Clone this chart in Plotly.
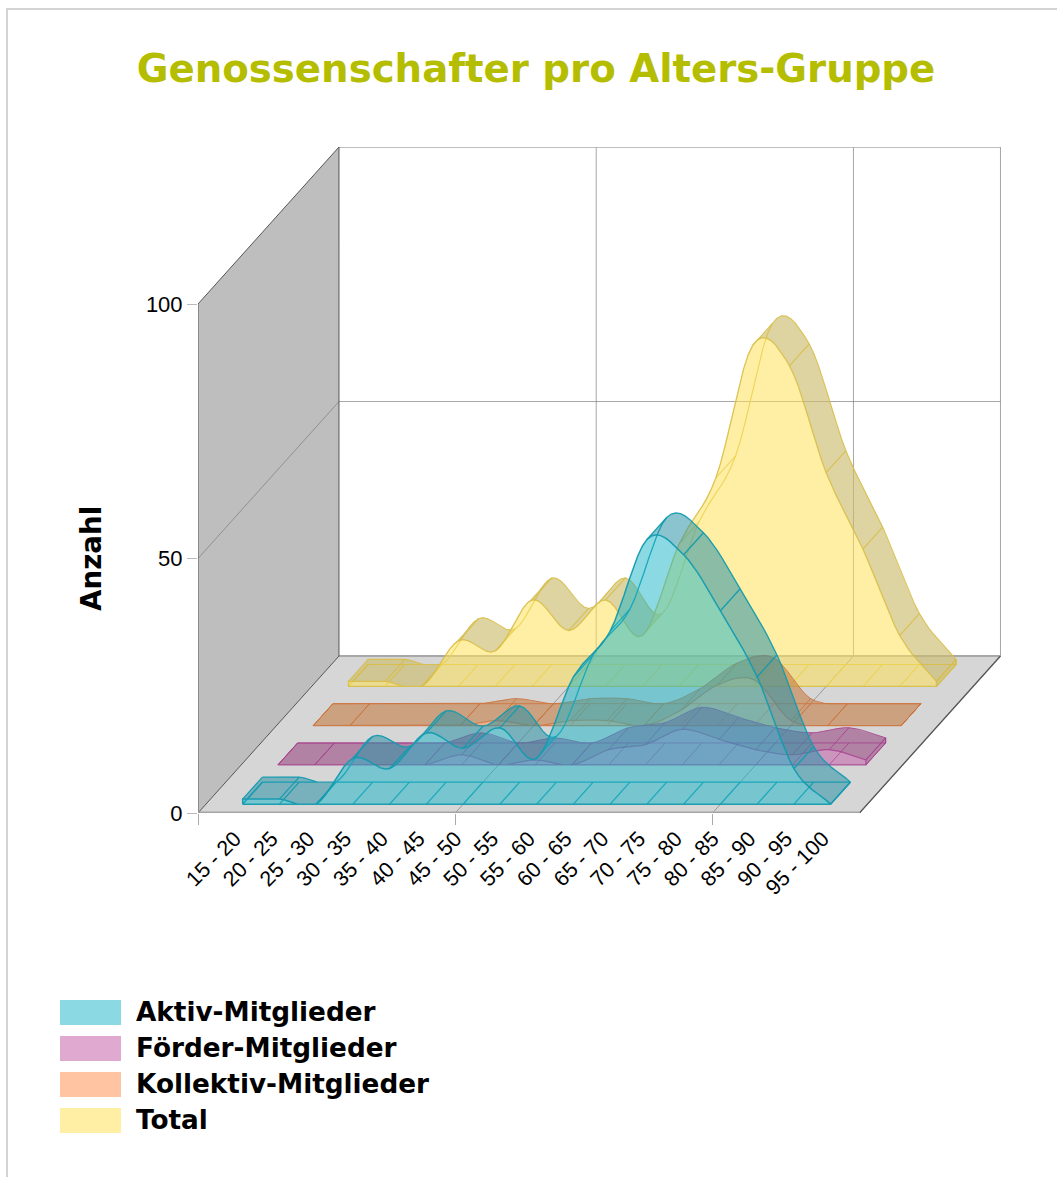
import numpy as np
import plotly.graph_objects as go

# ---- data -------------------------------------------------------------
categories = ["15 - 20", "20 - 25", "25 - 30", "30 - 35", "35 - 40", "40 - 45", "45 - 50",
              "50 - 55", "55 - 60", "60 - 65", "65 - 70", "70 - 75", "75 - 80", "80 - 85",
              "85 - 90", "90 - 95", "95 - 100"]
aktiv = [1, 1, 0, 9, 7, 14, 11, 15, 9, 25, 34, 52, 49, 38, 25, 7, 0]
foerder = [0, 0, 0, 0, 0, 2, 0, 1, 0, 3, 4, 7, 5, 3, 2, 3, 1]
kollektiv = [0, 0, 0, 0, 0, 1, 0, 1, 1, 0, 3, 8, 9, 1, 0, 0, 0]
total = [1, 1, 0, 9, 7, 17, 11, 17, 10, 28, 41, 67, 63, 42, 27, 10, 1]
series_names = ["Aktiv-Mitglieder", "Förder-Mitglieder", "Kollektiv-Mitglieder", "Total"]
y_ticks = [0, 50, 100]
x_grid = [-1, 6, 13]

# ---- look -------------------------------------------------------------
W, H = 1057, 1177
PX_CAT, PX_VAL = 36.75, 5.09          # pixels per category / per value
LEFT, BOTTOM, RIGHT, TOP = 198, 813, 1001, 147
DX, DY = 0.959, 7.71                  # oblique shift per depth slot (cat, value)
FRONT, BACK = 0.225, 0.785            # ribbon extent inside a depth slot
face_col = ["rgba(23,179,199,0.5)", "rgba(191,83,165,0.5)", "rgba(255,137,67,0.5)", "rgba(253,226,91,0.55)"]
top_col = ["rgba(44,147,167,0.55)", "rgba(149,62,125,0.55)", "rgba(195,125,70,0.6)", "rgba(205,189,110,0.65)"]
line_col = ["rgba(20,155,175,0.95)", "rgba(165,60,140,0.8)", "rgba(205,115,60,0.85)", "rgba(216,190,70,0.9)"]
line_w = [1.5, 1.2, 1.2, 1.3]
swatch = ["#8BD9E3", "#DFA9D0", "#FFC4A1", "#FEEFA5"]
wall_x = [-1, 17]


def proj(cat, val, depth):
    return np.asarray(cat, float) + depth * DX, np.asarray(val, float) + depth * DY


def smooth(vals, n=8):
    """Catmull-Rom curve through the values, resting on the floor."""
    v = np.asarray(vals, float)
    m = np.gradient(v)
    xs, ys = [], []
    for i in range(len(v) - 1):
        t = np.linspace(0, 1, n, endpoint=False)
        h00, h10 = 2*t**3 - 3*t**2 + 1, t**3 - 2*t**2 + t
        h01, h11 = -2*t**3 + 3*t**2, t**3 - t**2
        xs.append(i + t)
        ys.append(h00*v[i] + h10*m[i] + h01*v[i+1] + h11*m[i+1])
    xs = np.append(np.concatenate(xs), len(v) - 1)
    ys = np.append(np.concatenate(ys), v[-1])
    return xs, np.clip(ys, 0, None)


fig = go.Figure()


def poly(xs, ys, color, name=None):
    fig.add_trace(go.Scatter(x=list(xs), y=list(ys), mode="lines", fill="toself", fillcolor=color,
                             line=dict(width=0), hoverinfo="skip", showlegend=False,
                             name=name, cliponaxis=False))


def wire(xs, ys, color, width, name=None):
    fig.add_trace(go.Scatter(x=list(xs), y=list(ys), mode="lines", line=dict(color=color, width=width),
                             hoverinfo="skip", showlegend=False, name=name, cliponaxis=False))


# ---- box --------------------------------------------------------------
def corner(c, v, d):
    x, y = proj(c, v, d)
    return float(x), float(y)


c0, c1 = wall_x
pts = [corner(c0, 0, 0), corner(c1, 0, 0), corner(c1, 0, 4), corner(c0, 0, 4), corner(c0, 0, 0)]
poly([p[0] for p in pts], [p[1] for p in pts], "#D6D6D6", "floor")
pts = [corner(c0, 0, 0), corner(c0, 100, 0), corner(c0, 100, 4), corner(c0, 0, 4), corner(c0, 0, 0)]
poly([p[0] for p in pts], [p[1] for p in pts], "#BEBEBE", "wall")

gx, gy = [], []
for c in x_grid[1:] + [c1]:
    for p in (corner(c, 0, 0), corner(c, 0, 4), corner(c, 100, 4)):
        gx.append(p[0]); gy.append(p[1])
    gx.append(None); gy.append(None)
for p in (corner(c0, 50, 0), corner(c0, 50, 4), corner(c1, 50, 4)):
    gx.append(p[0]); gy.append(p[1])
wire(gx, gy, "rgba(120,120,120,0.65)", 1, "grid")
a, b = corner(c0, 100, 4), corner(c1, 100, 4)
wire([a[0], b[0]], [a[1], b[1]], "#AAAAAA", 1.5, "top edge")
a, b = corner(c0, 0, 4), corner(c1, 0, 4)
wire([a[0], b[0]], [a[1], b[1]], "#A8A8A8", 2, "back edge")
pts = [corner(c0, 0, 0), corner(c0, 100, 0), corner(c0, 100, 4), corner(c0, 0, 4), corner(c0, 0, 0)]
wire([p[0] for p in pts], [p[1] for p in pts], "#555555", 1, "wall edge")
a, b = corner(c1, 0, 0), corner(c1, 0, 4)
wire([a[0], b[0]], [a[1], b[1]], "#555555", 1.3, "floor edge")
a, b = corner(c0, 0, 0), corner(c1, 0, 0)
wire([a[0], b[0]], [a[1], b[1]], "#A4A4A4", 3, "floor front")

# ---- ribbons, back to front -------------------------------------------
for k, vals in reversed(list(enumerate([aktiv, foerder, kollektiv, total]))):
    name = series_names[k]
    cx, cy = smooth(vals)
    fx, fy = proj(cx, cy, k + FRONT)
    bx, by = proj(cx, cy, k + BACK)
    fx0, fy0 = proj(cx, 0 * cy, k + FRONT)
    bx0, by0 = proj(cx, 0 * cy, k + BACK)

    # top surface: only where its upper side faces the viewer
    sx = (BACK - FRONT) * DX * PX_CAT
    sy = (BACK - FRONT) * DY * PX_VAL
    slope = np.diff(fy) * PX_VAL / (np.diff(fx) * PX_CAT)
    visible = slope < sy / sx
    rx, ry, i = [], [], 0
    while i < len(visible):
        if visible[i]:
            j = i
            while j + 1 < len(visible) and visible[j + 1]:
                j += 1
            rx += list(fx[i:j + 2]) + list(bx[i:j + 2][::-1]) + [fx[i], None]
            ry += list(fy[i:j + 2]) + list(by[i:j + 2][::-1]) + [fy[i], None]
            i = j + 1
        else:
            i += 1
    # right end cap
    rx += [fx[-1], bx[-1], bx0[-1], fx0[-1], fx[-1]]
    ry += [fy[-1], by[-1], by0[-1], fy0[-1], fy[-1]]
    poly(rx, ry, top_col[k], name + " top")

    # wire: back curve, floor outline, cross lines (none inside a run of zeros)
    wx = list(bx) + [bx0[-1]] + list(bx0[::-1]) + [None]
    wy = list(by) + [by0[-1]] + list(by0[::-1]) + [None]
    step = 8
    for n_cat in range(len(vals)):
        q = n_cat * step
        inner_zero = 1 < n_cat < len(vals) - 1 and vals[n_cat - 1] == vals[n_cat] == vals[n_cat + 1] == 0
        if inner_zero:
            continue
        wx += [fx[q], bx[q], None, fx0[q], bx0[q], None]
        wy += [fy[q], by[q], None, fy0[q], by0[q], None]
    wx += [fx0[0], bx0[0], None, fx0[-1], bx0[-1], bx[-1], fx[-1]]
    wy += [fy0[0], by0[0], None, fy0[-1], by0[-1], by[-1], fy[-1]]
    wire(wx, wy, line_col[k], line_w[k] - 0.2, name + " frame")

    # front face
    px = [fx0[0]] + list(fx) + [fx0[-1], fx0[0]]
    py = [fy0[0]] + list(fy) + [fy0[-1], fy0[0]]
    fig.add_trace(go.Scatter(x=px, y=py, mode="lines", fill="toself", fillcolor=face_col[k],
                             line=dict(color=line_col[k], width=line_w[k]), name=name,
                             hoverinfo="skip", showlegend=False, cliponaxis=False))

# ---- layout -----------------------------------------------------------
shapes = [dict(type="rect", xref="paper", yref="paper", x0=7 / W, x1=1.02, y0=-0.02, y1=1 - 9 / H,
               line=dict(color="#D3D3D3", width=2), fillcolor="rgba(0,0,0,0)", layer="below")]
annotations = [dict(text="Anzahl", xref="paper", yref="paper", x=91 / W, y=1 - 559 / H, showarrow=False,
                    textangle=-90, xanchor="center", yanchor="middle",
                    font=dict(family="DejaVu Sans", size=27.7, color="#000000", weight=700))]
for i, nm in enumerate(series_names):
    top = 1000 + 36 * i
    shapes.append(dict(type="rect", xref="paper", yref="paper", x0=60 / W, x1=121 / W,
                       y0=1 - (top + 25) / H, y1=1 - top / H, fillcolor=swatch[i], line=dict(width=0)))
    annotations.append(dict(text=nm, xref="paper", yref="paper", x=133.5 / W, y=1 - (top + 12) / H,
                            showarrow=False, xanchor="left", yanchor="middle",
                            font=dict(family="DejaVu Sans", size=26.3, color="#000000", weight=700)))

fig.update_layout(
    width=W, height=H, margin=dict(l=0, r=0, t=0, b=0, autoexpand=False), autosize=False,
    paper_bgcolor="#FFFFFF", plot_bgcolor="rgba(0,0,0,0)", showlegend=False,
    title=dict(text="Genossenschafter pro Alters-Gruppe", x=536 / W, xref="paper", xanchor="center",
               y=1 - 68 / H, yref="paper", yanchor="middle",
               font=dict(family="DejaVu Sans", size=38.7, color="#B5BD00", weight=700)),
    shapes=shapes, annotations=annotations,
    xaxis=dict(domain=[LEFT / W, RIGHT / W], range=[-1, -1 + (RIGHT - LEFT) / PX_CAT], showgrid=False,
               zeroline=False, showline=False, tickmode="array", tickvals=list(range(len(categories))),
               ticktext=categories, tickangle=-45, ticks="", ticklabelstandoff=8,
               tickfont=dict(family="Liberation Sans", size=21.5, color="#000000"),
               minor=dict(tickmode="array", tickvals=x_grid, ticks="outside", ticklen=11,
                          tickcolor="#AAAAAA", tickwidth=1)),
    yaxis=dict(domain=[1 - BOTTOM / H, 1 - TOP / H], range=[0, (BOTTOM - TOP) / PX_VAL], showgrid=False,
               zeroline=False, showline=False, tickmode="array", tickvals=y_ticks, ticks="outside",
               ticklen=10, tickcolor="#BBBBBB", ticklabelstandoff=0,
               tickfont=dict(family="Liberation Sans", size=22, color="#000000")),
)

fig.write_html("out.html", config={"displayModeBar": False},
               post_script="document.body.style.margin='0';")
